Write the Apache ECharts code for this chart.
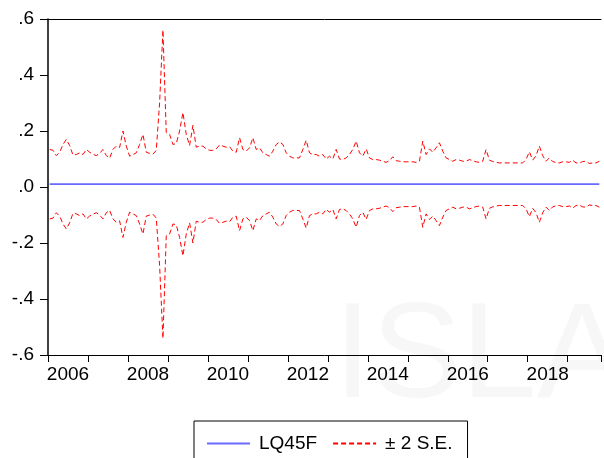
<!DOCTYPE html>
<html>
<head>
<meta charset="utf-8">
<script src="https://cdn.jsdelivr.net/npm/echarts@6/dist/echarts.min.js"></script>
<style>
  html, body { margin: 0; padding: 0; background: #fff; }
  #chart { width: 604px; height: 458px; }
</style>
</head>
<body>
<div id="chart"></div>
<script>
// Monthly sample: 2006M01 .. 2019M10
const startYear = 2006;
const yearLabels = ['2006', '2008', '2010', '2012', '2014', '2016', '2018'];
const yTicks = [-0.6, -0.4, -0.2, 0.0, 0.2, 0.4, 0.6];

// Forecast of LQ45 (LQ45F)
const lq45f = [
  0.010, 0.010, 0.010, 0.010, 0.010, 0.010, 0.010, 0.010, 0.010, 0.010, 0.010, 0.010,
  0.010, 0.010, 0.010, 0.010, 0.010, 0.010, 0.010, 0.010, 0.010, 0.010, 0.010, 0.010,
  0.010, 0.010, 0.010, 0.010, 0.010, 0.010, 0.010, 0.010, 0.010, 0.010, 0.010, 0.010,
  0.010, 0.010, 0.010, 0.010, 0.010, 0.010, 0.010, 0.010, 0.010, 0.010, 0.010, 0.010,
  0.010, 0.010, 0.010, 0.010, 0.010, 0.010, 0.010, 0.010, 0.010, 0.010, 0.010, 0.010,
  0.010, 0.010, 0.010, 0.010, 0.010, 0.010, 0.010, 0.010, 0.010, 0.010, 0.010, 0.010,
  0.010, 0.010, 0.010, 0.010, 0.010, 0.010, 0.010, 0.010, 0.010, 0.010, 0.010, 0.010,
  0.010, 0.010, 0.010, 0.010, 0.010, 0.010, 0.010, 0.010, 0.010, 0.010, 0.010, 0.010,
  0.010, 0.010, 0.010, 0.010, 0.010, 0.010, 0.010, 0.010, 0.010, 0.010, 0.010, 0.010,
  0.010, 0.010, 0.010, 0.010, 0.010, 0.010, 0.010, 0.010, 0.010, 0.010, 0.010, 0.010,
  0.010, 0.010, 0.010, 0.010, 0.010, 0.010, 0.010, 0.010, 0.010, 0.010, 0.010, 0.010,
  0.010, 0.010, 0.010, 0.010, 0.010, 0.010, 0.010, 0.010, 0.010, 0.010, 0.010, 0.010,
  0.010, 0.010, 0.010, 0.010, 0.010, 0.010, 0.010, 0.010, 0.010, 0.010, 0.010, 0.010,
  0.010, 0.010, 0.010, 0.010, 0.010, 0.010, 0.010, 0.010, 0.010, 0.010
];

// Two forecast standard errors
const twoSE = [
  0.124, 0.121, 0.102, 0.114, 0.142, 0.160, 0.138, 0.104, 0.106, 0.112, 0.106, 0.124,
  0.114, 0.107, 0.102, 0.110, 0.124, 0.102, 0.093, 0.124, 0.136, 0.131, 0.190, 0.136,
  0.100, 0.106, 0.112, 0.142, 0.178, 0.114, 0.110, 0.107, 0.121, 0.290, 0.551, 0.184,
  0.178, 0.142, 0.145, 0.190, 0.256, 0.178, 0.138, 0.210, 0.132, 0.136, 0.136, 0.126,
  0.121, 0.121, 0.126, 0.140, 0.136, 0.132, 0.134, 0.118, 0.114, 0.166, 0.124, 0.118,
  0.130, 0.166, 0.124, 0.130, 0.112, 0.106, 0.100, 0.118, 0.142, 0.151, 0.142, 0.112,
  0.100, 0.094, 0.094, 0.094, 0.124, 0.157, 0.112, 0.106, 0.106, 0.100, 0.106, 0.090,
  0.100, 0.090, 0.124, 0.090, 0.088, 0.094, 0.106, 0.124, 0.154, 0.112, 0.100, 0.126,
  0.094, 0.088, 0.088, 0.086, 0.082, 0.078, 0.084, 0.098, 0.084, 0.082, 0.080, 0.080,
  0.080, 0.080, 0.078, 0.082, 0.154, 0.106, 0.126, 0.114, 0.130, 0.148, 0.118, 0.094,
  0.088, 0.082, 0.088, 0.086, 0.082, 0.082, 0.088, 0.084, 0.080, 0.078, 0.082, 0.124,
  0.086, 0.081, 0.078, 0.076, 0.076, 0.076, 0.076, 0.076, 0.076, 0.076, 0.076, 0.088,
  0.116, 0.086, 0.102, 0.136, 0.102, 0.082, 0.094, 0.081, 0.077, 0.076, 0.080, 0.080,
  0.078, 0.086, 0.076, 0.075, 0.081, 0.082, 0.074, 0.076, 0.076, 0.082
];

const nObs = lq45f.length;
const tOf = i => startYear + (i + 0.5) / 12;
const xMax = startYear + nObs / 12;

const fontFamily = "'Liberation Sans', Arial, sans-serif";

const fmtY = v => {
  if (Math.abs(v) < 1e-9) return '.0';
  const s = v.toFixed(1);
  return s.replace('0.', '.');
};

const fmtX = v => {
  const r = Math.round(v);
  if (Math.abs(v - r) > 1e-6) return '';
  return yearLabels.indexOf(String(r)) >= 0 ? String(r) : '';
};

const chart = echarts.init(document.getElementById('chart'), null, { renderer: 'canvas' });

chart.setOption({
  animation: false,
  backgroundColor: '#ffffff',
  graphic: [{
    type: 'text',
    z: -10,
    left: 334,
    top: 292,
    silent: true,
    style: {
      text: 'ISLAM',
      fontSize: 135,
      fontFamily: fontFamily,
      fill: '#f7f7f7'
    }
  }],
  grid: { left: 48, right: 0, top: 19, bottom: 103, containLabel: false },
  legend: {
    left: 194,
    top: 421,
    orient: 'horizontal',
    data: ['LQ45F', '± 2 S.E.'],
    itemWidth: 43,
    itemHeight: 12,
    itemGap: 15,
    itemStyle: { opacity: 0 },
    padding: [13, 15, 40, 12],
    borderColor: '#000',
    borderWidth: 1,
    backgroundColor: '#fff',
    textStyle: { fontFamily: fontFamily, fontSize: 19, color: '#000', padding: [0, 0, 0, 4] }
  },
  xAxis: [{
    type: 'value',
    min: startYear,
    max: xMax,
    interval: 1,
    axisLine: { show: true, onZero: false, lineStyle: { color: '#000', width: 1 } },
    axisTick: { show: true, length: 7, lineStyle: { color: '#000' } },
    axisLabel: {
      show: true,
      showMinLabel: true,
      showMaxLabel: true,
      formatter: fmtX,
      margin: 10,
      padding: [0, 0, 0, 40],
      color: '#000',
      fontSize: 19,
      fontFamily: fontFamily
    },
    splitLine: { show: false }
  }, {
    type: 'value',
    position: 'top',
    min: startYear,
    max: xMax,
    axisLine: { show: true, onZero: false, lineStyle: { color: '#000', width: 1 } },
    axisTick: { show: false },
    axisLabel: { show: false },
    splitLine: { show: false }
  }],
  yAxis: {
    type: 'value',
    min: yTicks[0],
    max: yTicks[yTicks.length - 1],
    interval: 0.2,
    axisLine: { show: true, onZero: false, lineStyle: { color: '#000', width: 1.5 } },
    axisTick: { show: true, length: 8, lineStyle: { color: '#000' } },
    axisLabel: {
      formatter: fmtY,
      margin: 14,
      color: '#000',
      fontSize: 19,
      fontFamily: fontFamily
    },
    splitLine: { show: false }
  },
  series: [{
    name: 'LQ45F',
    type: 'line',
    xAxisIndex: 0,
    symbol: 'none',
    z: 3,
    lineStyle: { color: '#6a6aff', width: 1.8 },
    itemStyle: { color: '#6a6aff' },
    data: lq45f.map((v, i) => [tOf(i), v])
  }, {
    name: '± 2 S.E.',
    type: 'line',
    xAxisIndex: 0,
    symbol: 'none',
    lineStyle: { color: '#ff0000', width: 1, type: [5, 3] },
    itemStyle: { color: '#ff0000' },
    data: twoSE.map((s, i) => [tOf(i), lq45f[i] + s])
  }, {
    name: '± 2 S.E.',
    type: 'line',
    xAxisIndex: 0,
    symbol: 'none',
    lineStyle: { color: '#ff0000', width: 1, type: [5, 3] },
    itemStyle: { color: '#ff0000' },
    data: twoSE.map((s, i) => [tOf(i), lq45f[i] - s])
  }]
});
</script>
</body>
</html>
